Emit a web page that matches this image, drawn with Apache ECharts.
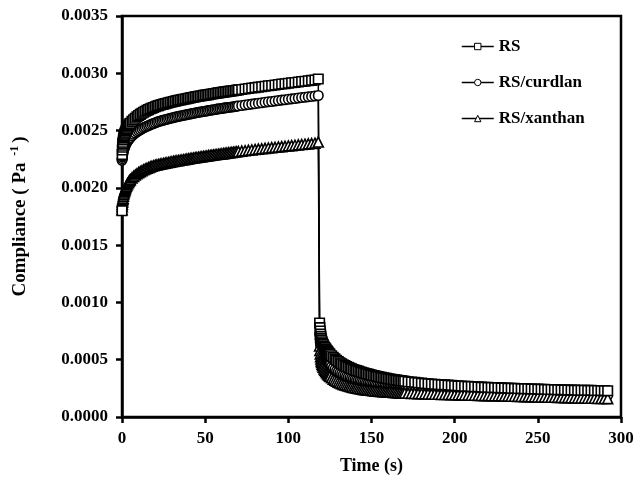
<!DOCTYPE html>
<html>
<head>
<meta charset="utf-8">
<script src="https://cdn.jsdelivr.net/npm/echarts@6/dist/echarts.min.js"></script>
<style>
  html, body { margin: 0; padding: 0; background: #fff; }
  #chart { width: 642px; height: 481px; }
</style>
</head>
<body>
<div id="chart"></div>
<script>
// Creep under constant stress (0–118 s), then recovery after the stress is removed.
const TIME_S = [
  // creep
  0, 0.1, 0.2, 0.3, 0.4, 0.5, 0.6, 0.8, 1.0, 1.2, 1.4, 1.6, 1.8, 2.0, 2.3, 2.6, 3.0, 3.4, 3.8, 4.2, 4.6, 5.0,
  6, 7, 8, 9, 10, 11, 12, 13, 14, 15, 16, 17, 18, 19, 20,
  21, 22, 23, 24, 25, 26, 27, 28, 29, 30, 31, 32, 33, 34, 35, 36, 37, 38, 39, 40,
  41, 42, 43, 44, 45, 46, 47, 48, 49, 50, 51, 52, 53, 54, 55, 56, 57, 58, 59, 60,
  61, 62, 63, 64, 65, 66, 67, 68, 69, 70,
  72, 74, 76, 78, 80, 82, 84, 86, 88, 90, 92, 94, 96, 98, 100, 102, 104, 106, 108, 110, 112, 114, 116, 118,
  // recovery
  118.8, 119, 119.2, 119.4, 119.6, 119.8, 120, 120.3, 120.6, 121, 121.5, 122, 122.5, 123, 123.5, 124, 124.5, 125,
  126, 127, 128, 129, 130, 131, 132, 133, 134, 135, 136, 137, 138, 139, 140,
  141, 142, 143, 144, 145, 146, 147, 148, 149, 150, 151, 152, 153, 154, 155,
  156, 157, 158, 159, 160, 161, 162, 163, 164, 165, 166, 167, 168, 169, 170,
  172, 174, 176, 178, 180, 182, 184, 186, 188, 190, 192, 194, 196, 198, 200,
  202, 204, 206, 208, 210, 212, 214, 216, 218, 220, 222, 224, 226, 228, 230, 232,
  234, 236, 238, 240, 242, 244, 246, 248, 250, 252, 254, 256, 258, 260, 262,
  264, 266, 268, 270, 272, 274, 276, 278, 280, 282, 284, 286, 288, 290, 292
];

// Compliance in units of 1e-6 Pa^-1
const RS = [
  1800, 2290, 2330, 2355, 2372, 2386, 2398, 2418, 2434, 2447, 2458, 2468, 2477, 2485, 2496, 2506, 2518, 2529, 2539, 2548, 2556, 2564,
  2580, 2595, 2608, 2620, 2631, 2641, 2651, 2660, 2668, 2676, 2683, 2690, 2696, 2702, 2708,
  2714, 2718, 2723, 2727, 2731, 2735, 2739, 2743, 2747, 2750, 2754, 2757, 2761, 2764, 2767, 2770, 2773, 2776, 2779, 2782,
  2785, 2788, 2791, 2794, 2797, 2799, 2802, 2804, 2807, 2809, 2812, 2814, 2817, 2819, 2822, 2824, 2827, 2829, 2831, 2833,
  2836, 2838, 2840, 2842, 2844, 2846, 2848, 2850, 2853, 2855,
  2859, 2863, 2867, 2871, 2875, 2879, 2883, 2887, 2891, 2894, 2898, 2902, 2906, 2909, 2913, 2917, 2920, 2924, 2928, 2931, 2935, 2938, 2942, 2950,
  820, 780, 750, 725, 705, 688, 673, 657, 645, 632, 618, 606, 595, 585, 575, 566, 557, 549,
  534, 520, 507, 495, 484, 474, 465, 456, 448, 441, 434, 427, 421, 415, 410,
  405, 400, 395, 391, 386, 382, 378, 374, 370, 366, 362, 359, 355, 352, 349,
  346, 343, 340, 337, 334, 331, 329, 326, 324, 322, 320, 318, 316, 314, 312,
  308, 305, 302, 299, 296, 293, 290, 288, 286, 284, 282, 280, 278, 276, 274,
  272, 270, 269, 267, 266, 264, 263, 261, 260, 259, 257, 256, 255, 254, 253, 252,
  251, 250, 249, 248, 247, 246, 245, 244, 243, 242, 241, 240, 240, 239, 238,
  237, 237, 236, 235, 235, 234, 233, 233, 232, 232, 231, 231, 230, 230, 229
];

const RS_CURDLAN = [
  2240, 2255, 2268, 2279, 2289, 2298, 2306, 2320, 2332, 2342, 2351, 2359, 2366, 2373, 2382, 2390, 2400, 2409, 2417, 2425, 2432, 2439,
  2455, 2468, 2479, 2489, 2498, 2507, 2516, 2524, 2531, 2538, 2544, 2550, 2556, 2562, 2568,
  2574, 2578, 2583, 2587, 2591, 2595, 2599, 2603, 2607, 2610, 2614, 2617, 2621, 2624, 2627, 2630, 2633, 2636, 2639, 2642,
  2645, 2648, 2651, 2654, 2657, 2659, 2662, 2664, 2667, 2669, 2672, 2674, 2677, 2679, 2682, 2684, 2687, 2689, 2691, 2693,
  2696, 2698, 2700, 2702, 2704, 2706, 2708, 2710, 2713, 2715,
  2719, 2723, 2727, 2731, 2735, 2739, 2743, 2747, 2751, 2754, 2758, 2762, 2766, 2769, 2773, 2777, 2780, 2784, 2788, 2791, 2795, 2798, 2802, 2806,
  720, 680, 650, 626, 606, 590, 576, 560, 547, 534, 520, 508, 497, 487, 478, 469, 461, 453,
  439, 426, 414, 403, 393, 384, 376, 368, 361, 354, 348, 342, 336, 331, 326,
  321, 317, 313, 309, 305, 301, 298, 295, 292, 289, 286, 283, 281, 279, 276,
  274, 272, 270, 268, 266, 264, 262, 261, 259, 257, 256, 254, 253, 252, 250,
  248, 246, 244, 242, 240, 238, 236, 235, 233, 232, 230, 229, 228, 226, 225,
  224, 223, 222, 221, 220, 219, 218, 217, 216, 215, 214, 213, 212, 212, 211, 210,
  209, 208, 208, 207, 206, 205, 205, 204, 203, 202, 202, 201, 200, 200, 199,
  198, 198, 197, 196, 196, 195, 194, 194, 193, 193, 192, 192, 191, 191, 190
];

const RS_XANTHAN = [
  1810, 1838, 1858, 1874, 1888, 1900, 1910, 1928, 1943, 1955, 1966, 1976, 1985, 1993, 2004, 2014, 2026, 2037, 2047, 2056, 2064, 2072,
  2087, 2100, 2112, 2123, 2133, 2142, 2150, 2158, 2165, 2171, 2177, 2183, 2188, 2193, 2198,
  2201, 2204, 2207, 2210, 2213, 2216, 2219, 2222, 2225, 2228, 2231, 2233, 2236, 2238, 2241, 2243, 2246, 2248, 2251, 2253,
  2256, 2258, 2260, 2263, 2265, 2267, 2270, 2272, 2274, 2276, 2278, 2281, 2283, 2285, 2287, 2289, 2291, 2293, 2295, 2297,
  2299, 2301, 2303, 2305, 2307, 2309, 2311, 2313, 2315, 2317,
  2321, 2324, 2328, 2331, 2335, 2338, 2341, 2345, 2348, 2351, 2354, 2357, 2360, 2363, 2366, 2369, 2372, 2375, 2378, 2381, 2384, 2387, 2390, 2400,
  620, 580, 550, 526, 506, 490, 476, 460, 447, 434, 420, 408, 397, 387, 378, 370, 362, 355,
  342, 331, 321, 312, 304, 297, 291, 285, 280, 275, 270, 266, 262, 258, 255,
  252, 249, 246, 243, 241, 239, 237, 235, 233, 231, 229, 228, 226, 225, 224,
  222, 221, 220, 219, 218, 217, 216, 215, 214, 213, 212, 211, 210, 209, 208,
  207, 206, 205, 204, 203, 202, 201, 200, 199, 198, 197, 196, 196, 195, 194,
  193, 193, 192, 191, 190, 190, 189, 188, 187, 187, 186, 185, 184, 184, 183, 182,
  181, 181, 180, 179, 178, 178, 177, 176, 175, 175, 174, 173, 172, 172, 171,
  170, 169, 169, 168, 167, 166, 166, 165, 164, 163, 163, 162, 161, 161, 160
];

const X_TICKS = [0, 50, 100, 150, 200, 250, 300];
const Y_TICKS = [0, 0.0005, 0.0010, 0.0015, 0.0020, 0.0025, 0.0030, 0.0035];

const MICRO = 1e-6;   // stored units -> Pa^-1
const FONT = '"Liberation Serif", "Times New Roman", Times, serif';
const INK = '#000';

function pairs(values) {
  return TIME_S.map((t, i) => [t, values[i] * MICRO]);
}

function curve(name, values, symbol, size) {
  return {
    name: name,
    type: 'line',
    data: pairs(values),
    symbol: symbol,
    symbolSize: size,
    showSymbol: true,
    showAllSymbol: true,
    lineStyle: { color: INK, width: 1.5 },
    itemStyle: { color: '#fff', borderColor: INK, borderWidth: 1.6 },
    emphasis: { disabled: true }
  };
}

const axisText = { fontFamily: FONT, fontWeight: 'bold', fontSize: 17, color: INK };

const chart = echarts.init(document.getElementById('chart'), null, { renderer: 'canvas' });
chart.setOption({
  animation: false,
  backgroundColor: '#fff',
  grid: {
    left: 122, right: 21, top: 16, bottom: 64,
    show: true, borderColor: INK, borderWidth: 2.5, backgroundColor: 'transparent'
  },
  legend: {
    orient: 'vertical',
    left: 461, top: 38, padding: 0,
    itemWidth: 32, itemHeight: 8, itemGap: 19,
    data: ['RS', 'RS/curdlan', 'RS/xanthan'],
    itemStyle: { borderWidth: 1 },
    lineStyle: { width: 1.5 },
    textStyle: { fontFamily: FONT, fontWeight: 'bold', fontSize: 17, color: INK, lineHeight: 16 }
  },
  xAxis: {
    type: 'value',
    min: X_TICKS[0], max: X_TICKS[X_TICKS.length - 1], interval: X_TICKS[1] - X_TICKS[0],
    name: 'Time (s)',
    nameLocation: 'middle', nameGap: 40,
    nameTextStyle: { fontFamily: FONT, fontWeight: 'bold', fontSize: 18, color: INK },
    axisLine: { lineStyle: { color: INK, width: 2.5 } },
    axisTick: { show: true, length: 6, lineStyle: { color: INK, width: 2.5 } },
    axisLabel: Object.assign({ margin: 13 }, axisText),
    splitLine: { show: false }
  },
  yAxis: {
    type: 'value',
    min: Y_TICKS[0], max: Y_TICKS[Y_TICKS.length - 1], interval: Y_TICKS[1] - Y_TICKS[0],
    name: '{t|Compliance ( Pa }{s|-1}{t|)}',
    nameLocation: 'middle', nameGap: 91, nameRotate: 90,
    nameTextStyle: {
      rich: {
        t: { fontFamily: FONT, fontWeight: 'bold', fontSize: 19, color: INK },
        s: { fontFamily: FONT, fontWeight: 'bold', fontSize: 12, color: INK, padding: [0, 3, 10, 2] }
      }
    },
    axisLine: { show: true, lineStyle: { color: INK, width: 2.5 } },
    axisTick: { show: true, length: 6, lineStyle: { color: INK, width: 2.5 } },
    axisLabel: Object.assign({ margin: 14, formatter: v => v.toFixed(4) }, axisText),
    splitLine: { show: false }
  },
  series: [
    curve('RS/curdlan', RS_CURDLAN, 'circle', 9.5),
    curve('RS/xanthan', RS_XANTHAN, 'triangle', 10),
    curve('RS', RS, 'rect', 9.5)
  ]
});
</script>
</body>
</html>
